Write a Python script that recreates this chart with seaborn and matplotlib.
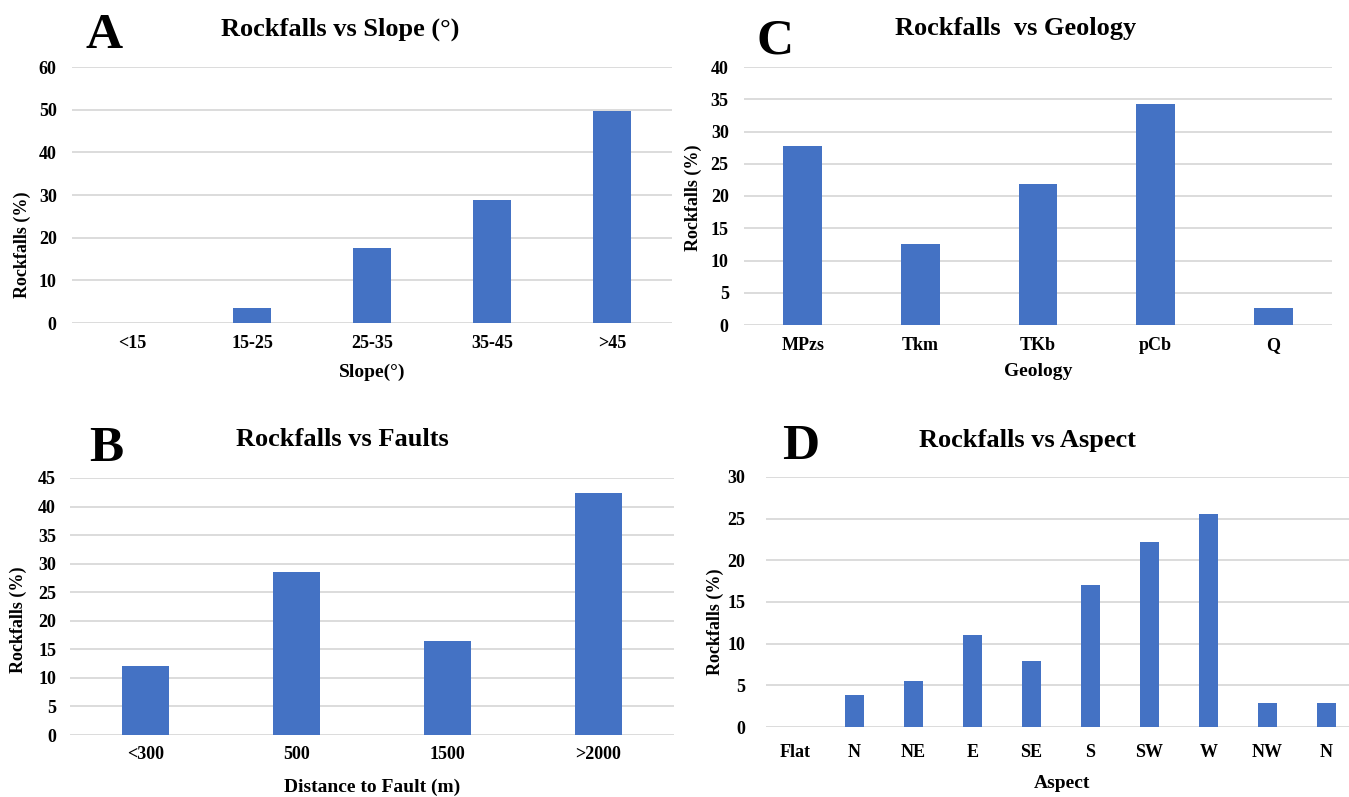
import matplotlib
matplotlib.use('Agg')
import matplotlib.pyplot as plt
import seaborn as sns

# Data
slope_cats = ['<15', '15-25', '25-35', '35-45', '>45']
slope_vals = [0, 3.5, 17.5, 28.8, 49.8]

geo_cats = ['MPzs', 'Tkm', 'TKb', 'pCb', 'Q']
geo_vals = [27.8, 12.6, 21.8, 34.3, 2.6]

fault_cats = ['<300', '500', '1500', '>2000']
fault_vals = [12.1, 28.6, 16.5, 42.4]

aspect_cats = ['Flat', 'N', 'NE', 'E', 'SE', 'S', 'SW', 'W', 'NW', 'N']
aspect_vals = [0, 3.9, 5.5, 11.0, 7.9, 17.1, 22.2, 25.6, 2.9, 2.9]

sns.set_theme(style='white')
plt.rcParams['font.family'] = ['Liberation Serif', 'DejaVu Serif']
plt.rcParams['font.weight'] = 'bold'
plt.rcParams['text.color'] = 'black'
plt.rcParams['axes.labelcolor'] = 'black'
plt.rcParams['xtick.color'] = 'black'
plt.rcParams['ytick.color'] = 'black'

W, H = 1349, 797
fig = plt.figure(figsize=(W / 100, H / 100), dpi=100)
BAR = '#4472C4'


def fx(x):
    return x / W


def fy(y):
    return 1 - y / H


def make_ax(left, top, right, bottom):
    return fig.add_axes([fx(left), fy(bottom), (right - left) / W, (bottom - top) / H])


def style(ax, ymax, ystep, ypad, xpad):
    ax.set_ylim(0, ymax)
    ax.set_yticks(range(0, ymax + 1, ystep))
    ax.yaxis.grid(True, color='#d9d9d9', linewidth=1.3)
    ax.xaxis.grid(False)
    ax.set_axisbelow(True)
    for s in ax.spines.values():
        s.set_visible(False)
    ax.tick_params(axis='y', length=0, pad=ypad, labelsize=13)
    ax.tick_params(axis='x', length=0, pad=xpad, labelsize=13)
    for lab in ax.get_xticklabels() + ax.get_yticklabels():
        lab.set_fontweight('bold')


def labels(ax, title, tx, ty, letter, lx, ly, xlabel, xlx, xly, ylx, yly):
    fig.text(fx(tx), fy(ty), title, ha='center', va='center', fontsize=19, fontweight='bold')
    fig.text(fx(lx), fy(ly), letter, ha='center', va='center', fontsize=37, fontweight='bold')
    ax.set_xlabel(xlabel, fontsize=14, fontweight='bold')
    ax.xaxis.set_label_coords(fx(xlx), fy(xly), transform=fig.transFigure)
    ax.xaxis.label.set_va('center')
    ax.set_ylabel('Rockfalls (%)', fontsize=13, fontweight='bold')
    ax.yaxis.set_label_coords(fx(ylx), fy(yly), transform=fig.transFigure)
    ax.yaxis.label.set_va('center')


# A: slope
axA = make_ax(72, 67, 672, 323)
sns.barplot(x=slope_cats, y=slope_vals, color=BAR, saturation=1, width=0.31, linewidth=0, ax=axA)
style(axA, 60, 10, 11, 9)
labels(axA, 'Rockfalls vs Slope (°)', 340, 29, 'A', 104, 36, 'Slope(°)', 372, 372, 22, 245)

# C: geology
axC = make_ax(744, 67, 1332, 325)
sns.barplot(x=geo_cats, y=geo_vals, color=BAR, saturation=1, width=0.33, linewidth=0, ax=axC)
style(axC, 40, 5, 11, 9)
labels(axC, 'Rockfalls  vs Geology', 1016, 29, 'C', 775, 42, 'Geology', 1038, 372, 693, 198)

# B: distance to fault
axB = make_ax(70, 478, 674, 735)
sns.barplot(x=fault_cats, y=fault_vals, color=BAR, saturation=1, width=0.31, linewidth=0, ax=axB)
style(axB, 45, 5, 10, 8)
labels(axB, 'Rockfalls vs Faults', 342, 440, 'B', 106, 449, 'Distance to Fault (m)', 372, 787, 18, 620)

# D: aspect (two "N" classes, so bars are placed by index)
axD = make_ax(766, 477, 1356, 727)
sns.barplot(x=list(range(len(aspect_vals))), y=aspect_vals, color=BAR, saturation=1, width=0.31,
            linewidth=0, ax=axD)
axD.set_xticks(range(len(aspect_cats)))
axD.set_xticklabels(aspect_cats)
style(axD, 30, 5, 15, 12)
labels(axD, 'Rockfalls vs Aspect', 1027, 441, 'D', 801, 447, 'Aspect', 1062, 784, 715, 622)

fig.savefig('out.png', dpi=100)
